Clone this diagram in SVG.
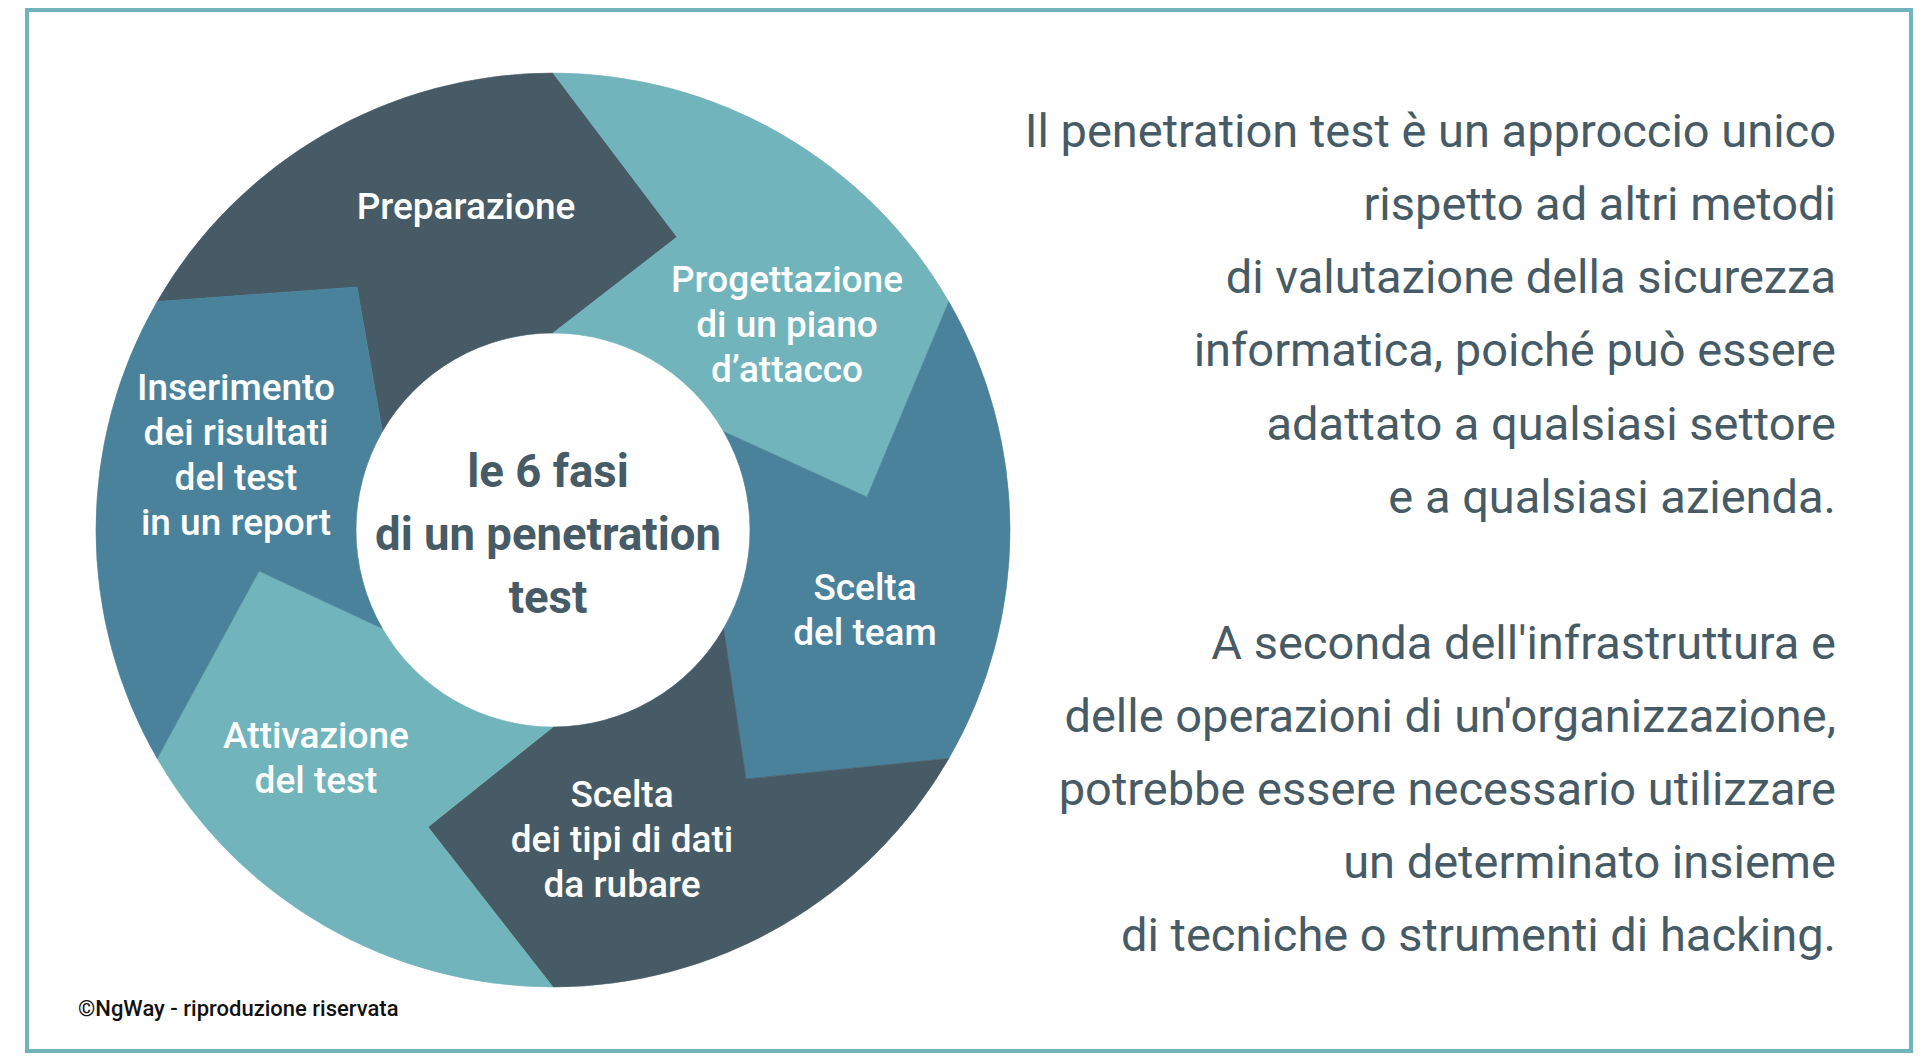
<svg xmlns="http://www.w3.org/2000/svg" width="1925" height="1063" viewBox="0 0 1925 1063">
<style>
.dark{fill:#475b66;stroke:#475b66;stroke-width:0.6}
.light{fill:#72b4bb;stroke:#72b4bb;stroke-width:0.6}
.mid{fill:#4a829b;stroke:#4a829b;stroke-width:0.6}
.lbl{font-family:Roboto,"Liberation Sans",sans-serif;font-weight:500;font-size:37px;fill:#ffffff;text-anchor:middle}
.ctr{font-family:Roboto,"Liberation Sans",sans-serif;font-weight:700;font-size:45.5px;fill:#475b66;text-anchor:middle}
.body{font-family:Roboto,"Liberation Sans",sans-serif;font-weight:400;font-size:47px;fill:#475b66;text-anchor:end}
.copy{font-family:Roboto,"Liberation Sans",sans-serif;font-weight:500;font-size:22px;fill:#111111}
</style>
<rect x="0" y="0" width="1925" height="1063" fill="#ffffff"/>
<rect x="27" y="10" width="1884" height="1041" fill="none" stroke="#72b4bb" stroke-width="4"/>
<g id="connectors"></g>
<g id="preparazione">
<path class="dark" d="M157.2,301.5 A457,457 0 0 1 553,73 L677,237 L553,333 A197,197 0 0 0 382.4,431.5 L357,287 Z"/>
<text class="lbl" x="466" y="219">Preparazione</text>
</g>
<g id="progettazione">
<path class="light" d="M553,73 A457,457 0 0 1 948.8,301.5 L867,497 L723.6,431.5 A197,197 0 0 0 553,333 L677,237 Z"/>
<text class="lbl" x="787" y="292">Progettazione</text>
<text class="lbl" x="787" y="337">di un piano</text>
<text class="lbl" x="787" y="382">d’attacco</text>
</g>
<g id="scelta-team">
<path class="mid" d="M948.8,301.5 A457,457 0 0 1 948.8,758.5 L746,779 L723.6,628.5 A197,197 0 0 0 723.6,431.5 L867,497 Z"/>
<text class="lbl" x="865" y="600">Scelta</text>
<text class="lbl" x="865" y="645">del team</text>
</g>
<g id="scelta-dati">
<path class="dark" d="M948.8,758.5 A457,457 0 0 1 553,987 L428,827 L553,727 A197,197 0 0 0 723.6,628.5 L746,779 Z"/>
<text class="lbl" x="622" y="807">Scelta</text>
<text class="lbl" x="622" y="852">dei tipi di dati</text>
<text class="lbl" x="622" y="897">da rubare</text>
</g>
<g id="attivazione">
<path class="light" d="M553,987 A457,457 0 0 1 157.2,758.5 L259,571 L382.4,628.5 A197,197 0 0 0 553,727 L428,827 Z"/>
<text class="lbl" x="316" y="748">Attivazione</text>
<text class="lbl" x="316" y="793">del test</text>
</g>
<g id="inserimento">
<path class="mid" d="M157.2,758.5 A457,457 0 0 1 157.2,301.5 L357,287 L382.4,431.5 A197,197 0 0 0 382.4,628.5 L259,571 Z"/>
<text class="lbl" x="236" y="400">Inserimento</text>
<text class="lbl" x="236" y="445">dei risultati</text>
<text class="lbl" x="236" y="490">del test</text>
<text class="lbl" x="236" y="535">in un report</text>
</g>
<g id="centro">
<circle cx="553" cy="530" r="196" fill="#ffffff"/>
<text class="ctr" x="548" y="487">le 6 fasi</text>
<text class="ctr" x="548" y="550">di un penetration</text>
<text class="ctr" x="548" y="613">test</text>
</g>
<g id="testo">
<text class="body" x="1836" y="147">Il penetration test è un approccio unico</text>
<text class="body" x="1836" y="220">rispetto ad altri metodi</text>
<text class="body" x="1836" y="293">di valutazione della sicurezza</text>
<text class="body" x="1836" y="366">informatica, poiché può essere</text>
<text class="body" x="1836" y="440">adattato a qualsiasi settore</text>
<text class="body" x="1836" y="513">e a qualsiasi azienda.</text>
<text class="body" x="1836" y="659">A seconda dell'infrastruttura e</text>
<text class="body" x="1836" y="732">delle operazioni di un'organizzazione,</text>
<text class="body" x="1836" y="805">potrebbe essere necessario utilizzare</text>
<text class="body" x="1836" y="878">un determinato insieme</text>
<text class="body" x="1836" y="951">di tecniche o strumenti di hacking.</text>
</g>
<g id="copyright">
<text class="copy" x="78" y="1016">©NgWay - riproduzione riservata</text>
</g>
</svg>
